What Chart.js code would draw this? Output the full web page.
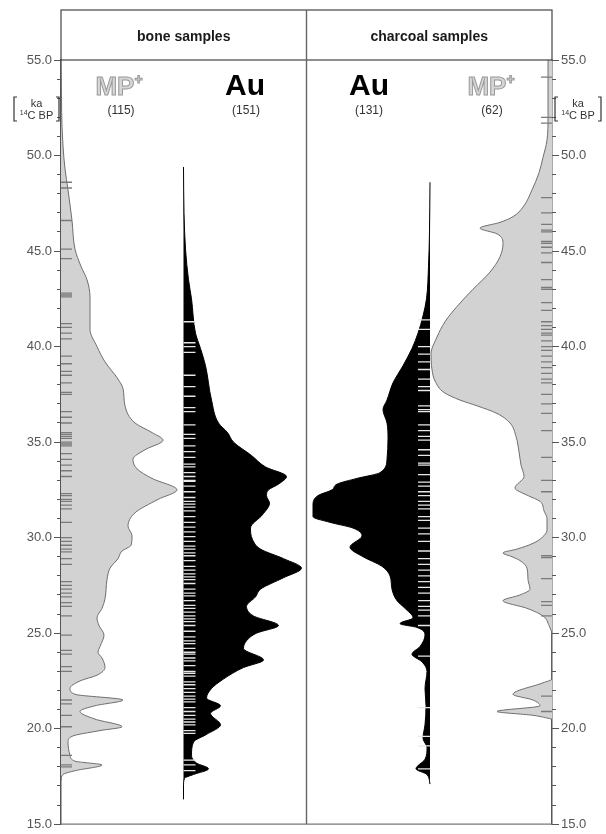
<!DOCTYPE html>
<html>
<head>
<meta charset="utf-8">
<title>Bone and charcoal samples</title>
<script src="https://cdn.jsdelivr.net/npm/chart.js@4.4.0/dist/chart.umd.min.js"></script>
<style>
  html, body { margin: 0; padding: 0; background: #fff; }
  #wrap { width: 606px; height: 834px; position: relative; }
</style>
</head>
<body>
<div id="wrap"><canvas id="chart" width="606" height="834"></canvas></div>
<script>
// age axis, ka 14C BP
const ageMin = 15;
const ageMax = 55;

// panel headings and series names
const panelTitles = ['bone samples', 'charcoal samples'];
const seriesNames = ['MP+', 'Au', 'Au', 'MP+'];
const sampleCounts = [115, 151, 131, 62];

// summed probability, bone samples, MP+ (relative density)
const boneMpAge = [55, 53, 51.5, 50.5, 49.3, 48.2, 46.6, 45.1, 44.2, 43.5, 42.6, 40.9, 40.0, 39.2, 38.3, 37.8,
  36.9, 36.0, 35.5, 35.1, 34.6, 34.1, 33.6, 33.1, 32.5, 32.0, 31.3, 30.6, 30.1, 29.6, 29.3, 28.9, 28.4,
  27.8, 26.8, 26.3, 25.8, 25.4, 24.9, 24.3, 24.0, 23.7, 23.2, 22.8, 22.5, 22.1, 21.8, 21.5, 21.2, 20.9,
  20.5, 20.1, 19.9, 19.6, 19.3, 18.6, 18.3, 18.1, 17.8, 17.6, 17.3];
const boneMpDensity = [0, 0.5, 1, 2, 4, 7, 11, 14, 20, 26, 29, 29, 36, 44, 57, 62,
  64, 74, 91, 102, 84, 72, 76, 91, 116, 97, 74, 67, 71, 70, 61, 57, 49,
  46, 44, 41, 36, 38, 43, 39, 37, 41, 44, 36, 19, 9, 14, 62, 34, 19,
  34, 61, 39, 11, 7, 9, 14, 41, 14, 2, 0];

// summed probability, bone samples, Au
const boneAuAge = [49.4, 47, 45.1, 43.5, 42.5, 40.7, 39.9, 39.0, 37.2, 36.0, 35.5, 35.0, 34.3, 33.7, 33.2,
  32.8, 32.5, 32.2, 31.8, 31.2, 30.5, 29.9, 29.4, 28.9, 28.4, 27.9, 27.3, 26.9, 26.4, 25.9, 25.4, 25.0,
  24.6, 24.2, 23.6, 23.2, 22.6, 22.1, 21.6, 21.2, 20.8, 20.2, 19.7, 19.3, 18.6, 18.2, 17.9, 17.6, 17.4,
  17.0, 16.3];
const boneAuDensity = [0, 0.5, 2, 5, 8, 12, 17, 22, 28, 35, 44, 50, 68, 82, 103,
  95, 85, 83, 86, 79, 67, 69, 77, 100, 118, 100, 77, 72, 63, 70, 95, 73,
  63, 60, 80, 60, 40, 28, 23, 37, 27, 37, 23, 10, 8, 13, 25, 10, 1,
  0, 0];

// summed probability, charcoal samples, Au
const charAuAge = [48.6, 46, 44.2, 42.5, 41.6, 40.7, 39.9, 39.0, 38.1, 37.2, 36.7, 36.0, 35.2, 34.1, 33.4,
  33.1, 32.8, 32.5, 32.2, 31.7, 31.1, 30.8, 30.5, 30.1, 29.5, 29.0, 28.5, 28.0, 27.3, 26.7, 26.3, 25.8,
  25.5, 25.3, 24.9, 24.3, 23.9, 23.5, 23.0, 22.1, 21.2, 20.2, 19.5, 19.0, 18.4, 17.9, 17.6, 17.1];
const charAuDensity = [0, 0.5, 1.5, 3.5, 7, 12, 18, 27, 37, 43, 47, 43, 42, 43, 50,
  73, 93, 98, 112, 117, 117, 100, 77, 68, 80, 67, 48, 40, 38, 33, 25, 17,
  30, 13, 5, 10, 18, 8, 3, 5, 4, 5, 7, 3, 5, 14, 3, 0];

// summed probability, charcoal samples, MP+
const charMpAge = [55, 52, 50.8, 49.9, 49.1, 48.2, 47.3, 46.8, 46.5, 46.2, 45.9, 45.4, 44.7, 43.9, 43.0,
  42.1, 41.3, 40.5, 39.6, 38.8, 38.2, 37.6, 37.2, 36.9, 36.5, 36.0, 35.3, 34.5, 33.8, 33.2, 32.6, 32.2,
  31.9, 31.4, 31.0, 30.4, 30.0, 29.7, 29.4, 29.2, 29.0, 28.8, 28.4, 27.8, 27.3, 27.0, 26.7, 26.3, 25.9,
  25.4, 24.9, 22.6, 22.4, 21.8, 21.5, 21.2, 20.9, 20.7, 20.5];
const charMpDensity = [4, 4, 5, 9, 13, 20, 29, 39, 52, 72, 55, 49, 52, 62, 79,
  95, 107, 115, 121, 120, 117, 108, 92, 75, 55, 42, 36, 33, 31, 28, 37, 24,
  12, 8, 5, 5, 10, 19, 35, 49, 40, 32, 25, 24, 22, 32, 49, 25, 9,
  3, 0, 0, 9, 39, 19, 12, 55, 19, 0];

// individual dates (ka), drawn as dashes at the base of each curve
const boneMpDates = [48.6, 48.3, 46.6, 45.1, 44.6, 42.8, 42.7, 42.6, 41.2, 41.0, 40.7, 40.4, 39.5, 39.1,
  38.7, 38.5, 38.1, 37.6, 37.5, 36.6, 36.3, 36.0, 35.5, 35.4, 35.3, 35.2, 35.0, 34.9, 34.8, 34.4, 34.1,
  33.8, 33.5, 33.2, 32.3, 32.2, 32.0, 31.9, 31.7, 31.5, 30.8, 30.0, 29.8, 29.6, 29.4, 29.25, 28.9, 28.6,
  27.7, 27.5, 27.3, 27.1, 26.9, 26.6, 26.4, 25.9, 24.9, 24.1, 23.9, 23.25, 23.0, 21.5, 21.3, 20.7, 20.1,
  18.6, 18.1, 18.0];
const boneAuDates = [41.3, 40.2, 40.0, 39.7, 38.5, 37.9, 37.4, 36.8, 36.6, 35.9, 35.4, 35.2, 34.8, 34.5,
  34.2, 33.85, 33.7, 33.4, 33.2, 33.0, 32.95, 32.7, 32.4, 32.1, 31.9, 31.75, 31.6, 31.4, 31.1, 30.8, 30.55,
  30.3, 30.05, 29.8, 29.55, 29.4, 29.2, 29.05, 28.8, 28.5, 28.3, 28.1, 27.95, 27.8, 27.6, 27.3, 27.1,
  26.95, 26.7, 26.45, 26.3, 26.1, 25.9, 25.75, 25.6, 25.4, 25.1, 24.8, 24.6, 24.45, 24.2, 24.0, 23.9,
  23.7, 23.55, 23.3, 23.0, 22.9, 22.75, 22.45, 22.3, 22.1, 21.9, 21.7, 21.55, 21.4, 21.1, 20.9, 20.7,
  20.5, 20.35, 20.2, 19.9, 19.75, 18.35, 18.1, 17.8];
const charAuDates = [41.4, 40.9, 40.0, 39.6, 39.2, 38.8, 38.3, 37.9, 37.7, 36.9, 36.7, 36.6, 35.9, 35.6,
  35.3, 35.1, 34.6, 34.3, 33.9, 33.8, 33.3, 32.9, 32.7, 32.4, 32.2, 31.9, 31.7, 31.5, 31.1, 30.9, 30.5,
  30.2, 29.8, 29.3, 28.9, 28.6, 28.3, 28.0, 27.7, 27.4, 27.1, 26.7, 26.4, 26.2, 25.9, 25.4, 23.8, 21.1,
  19.6, 19.1, 17.9];
const charMpDates = [54.1, 52.0, 51.7, 47.8, 47.0, 46.4, 46.1, 46.0, 45.5, 45.4, 45.2, 44.9, 44.4, 43.5,
  43.1, 43.0, 42.3, 41.9, 41.3, 41.1, 40.9, 40.7, 40.6, 40.3, 40.0, 39.8, 39.5, 39.2, 38.9, 38.6, 38.3,
  38.1, 37.5, 37.0, 36.5, 35.6, 34.2, 33.0, 32.4, 29.05, 28.95, 27.85, 26.65, 26.45, 25.9, 21.7, 20.9];

// colours
const mpFill = '#d2d2d2';
const mpLine = '#6e6e6e';
const mpDash = '#7a7a7a';
const auFill = '#000000';
const auDash = '#e8e8e8';
const axisColor = '#555';
const textFont = '"Liberation Sans", Arial, sans-serif';

function curve(ages, vals) {
  return ages.map((a, i) => ({ x: vals[i], y: a }));
}

// dash centre sits half a dash length from the baseline
function dashes(ages, half) {
  return ages.map(a => ({ x: half, y: a }));
}

function areaSet(data, xAxisID, fillColor, lineColor) {
  return {
    data: data,
    xAxisID: xAxisID,
    yAxisID: 'y',
    borderColor: lineColor,
    borderWidth: 1,
    backgroundColor: fillColor,
    fill: { value: 0 },
    pointRadius: 0,
    cubicInterpolationMode: 'monotone',
    order: 2
  };
}

function dashSet(data, xAxisID, color, half) {
  return {
    data: data,
    xAxisID: xAxisID,
    yAxisID: 'y',
    showLine: false,
    pointStyle: 'line',
    pointRadius: half,
    pointBorderColor: color,
    pointBorderWidth: 1.3,
    order: 1
  };
}

function minorAxis(position) {
  return {
    type: 'linear', position: position, min: ageMin, max: ageMax, weight: 0,
    afterFit: s => { s.width = 0; },
    ticks: { display: false, stepSize: 1 },
    grid: { drawOnChartArea: false, tickLength: 4, color: axisColor },
    border: { display: false }
  };
}

function labelAxis(position, width) {
  return {
    type: 'linear', position: position, min: ageMin, max: ageMax, weight: 1,
    afterFit: s => { s.width = width; },
    ticks: {
      stepSize: 5, padding: 2, color: '#555',
      font: { family: textFont, size: 13 },
      callback: v => v.toFixed(1)
    },
    grid: { drawOnChartArea: false, tickLength: 7, color: axisColor },
    border: { color: axisColor, width: 1.5 }
  };
}

// header, divider, series labels and axis titles
const decor = {
  id: 'decor',
  afterDraw(chart) {
    const { ctx, chartArea: a } = chart;
    const mid = (a.left + a.right) / 2;
    const top = a.top - 50;
    ctx.save();

    ctx.strokeStyle = '#444';
    ctx.lineWidth = 1.2;
    ctx.strokeRect(a.left, top, a.right - a.left, a.top - top);
    ctx.beginPath();
    ctx.moveTo(a.left, a.bottom);
    ctx.lineTo(a.right, a.bottom);
    ctx.strokeStyle = '#777';
    ctx.stroke();
    ctx.beginPath();
    ctx.moveTo(mid, top);
    ctx.lineTo(mid, a.bottom);
    ctx.strokeStyle = '#666';
    ctx.lineWidth = 1.4;
    ctx.stroke();

    ctx.fillStyle = '#1a1a1a';
    ctx.textAlign = 'center';
    ctx.textBaseline = 'middle';
    ctx.font = 'bold 14px ' + textFont;
    ctx.fillText(panelTitles[0], (a.left + mid) / 2, top + 27);
    ctx.fillText(panelTitles[1], (mid + a.right) / 2, top + 27);

    // label centres, px from the left edge of the plot
    const nameX = [58, 184, 308, 430];
    const countX = [60, 185, 308, 431];
    seriesNames.forEach((name, i) => {
      const cx = a.left + nameX[i];
      ctx.textBaseline = 'alphabetic';
      if (name === 'Au') {
        ctx.textAlign = 'center';
        ctx.font = 'bold 30px ' + textFont;
        ctx.fillStyle = '#000';
        ctx.fillText(name, cx, 95);
      } else {
        const base = name.replace('+', '');
        ctx.font = 'bold 26px ' + textFont;
        const w1 = ctx.measureText(base).width;
        ctx.font = 'bold 14px ' + textFont;
        const w2 = ctx.measureText('+').width;
        const x0 = cx - (w1 + w2) / 2;
        ctx.textAlign = 'left';
        ctx.font = 'bold 26px ' + textFont;
        ctx.fillStyle = '#d6d6d6';
        ctx.strokeStyle = '#9a9a9a';
        ctx.lineWidth = 1;
        ctx.fillText(base, x0, 95);
        ctx.strokeText(base, x0, 95);
        ctx.font = 'bold 14px ' + textFont;
        ctx.fillText('+', x0 + w1, 84);
        ctx.strokeText('+', x0 + w1, 84);
      }
      ctx.textAlign = 'center';
      ctx.font = '12px ' + textFont;
      ctx.fillStyle = '#333';
      ctx.fillText('(' + sampleCounts[i] + ')', a.left + countX[i], 114);
    });

    // [ka / 14C BP] beside both age axes
    const unitLabel = (x0, x1) => {
      const cx = (x0 + x1) / 2;
      ctx.strokeStyle = '#333';
      ctx.lineWidth = 1.2;
      ctx.beginPath();
      ctx.moveTo(x0 + 3, 97); ctx.lineTo(x0, 97); ctx.lineTo(x0, 121); ctx.lineTo(x0 + 3, 121);
      ctx.moveTo(x1 - 3, 97); ctx.lineTo(x1, 97); ctx.lineTo(x1, 121); ctx.lineTo(x1 - 3, 121);
      ctx.stroke();
      ctx.fillStyle = '#333';
      ctx.textAlign = 'center';
      ctx.font = '11px ' + textFont;
      ctx.fillText('ka', cx, 107);
      const wMain = ctx.measureText('C BP').width;
      ctx.font = '7px ' + textFont;
      const wSup = ctx.measureText('14').width;
      const sx = cx - (wMain + wSup) / 2;
      ctx.textAlign = 'left';
      ctx.fillText('14', sx, 115);
      ctx.font = '11px ' + textFont;
      ctx.fillText('C BP', sx + wSup, 119);
    };
    unitLabel(14, 59);
    unitLabel(555, 601);

    ctx.restore();
  }
};

new Chart(document.getElementById('chart'), {
  type: 'line',
  data: {
    datasets: [
      areaSet(curve(boneMpAge, boneMpDensity), 'xMpBone', mpFill, mpLine),
      areaSet(curve(boneAuAge, boneAuDensity), 'xAuBone', auFill, auFill),
      areaSet(curve(charAuAge, charAuDensity), 'xAuChar', auFill, auFill),
      areaSet(curve(charMpAge, charMpDensity), 'xMpChar', mpFill, mpLine),
      dashSet(dashes(boneMpDates, 5.5), 'xMpBone', mpDash, 5.5),
      dashSet(dashes(boneAuDates, 6), 'xAuBone', auDash, 6),
      dashSet(dashes(charAuDates, 6), 'xAuChar', auDash, 6),
      dashSet(dashes(charMpDates, 5.5), 'xMpChar', mpDash, 5.5)
    ]
  },
  options: {
    indexAxis: 'y',
    responsive: false,
    animation: false,
    events: [],
    layout: { padding: { left: 0, right: 0, top: 60, bottom: 8 } },
    plugins: {
      legend: { display: false },
      tooltip: { enabled: false },
      filler: { propagate: false }
    },
    scales: {
      y: labelAxis('left', 61),
      yMinorL: minorAxis('left'),
      yR: labelAxis('right', 54),
      yMinorR: minorAxis('right'),
      xMpBone: { type: 'linear', display: false, min: 0, max: 491 },
      xAuBone: { type: 'linear', display: false, min: -122.5, max: 368.5 },
      xAuChar: { type: 'linear', display: false, reverse: true, min: -122, max: 369 },
      xMpChar: { type: 'linear', display: false, reverse: true, min: 0, max: 491 }
    }
  },
  plugins: [decor]
});
</script>
</body>
</html>
